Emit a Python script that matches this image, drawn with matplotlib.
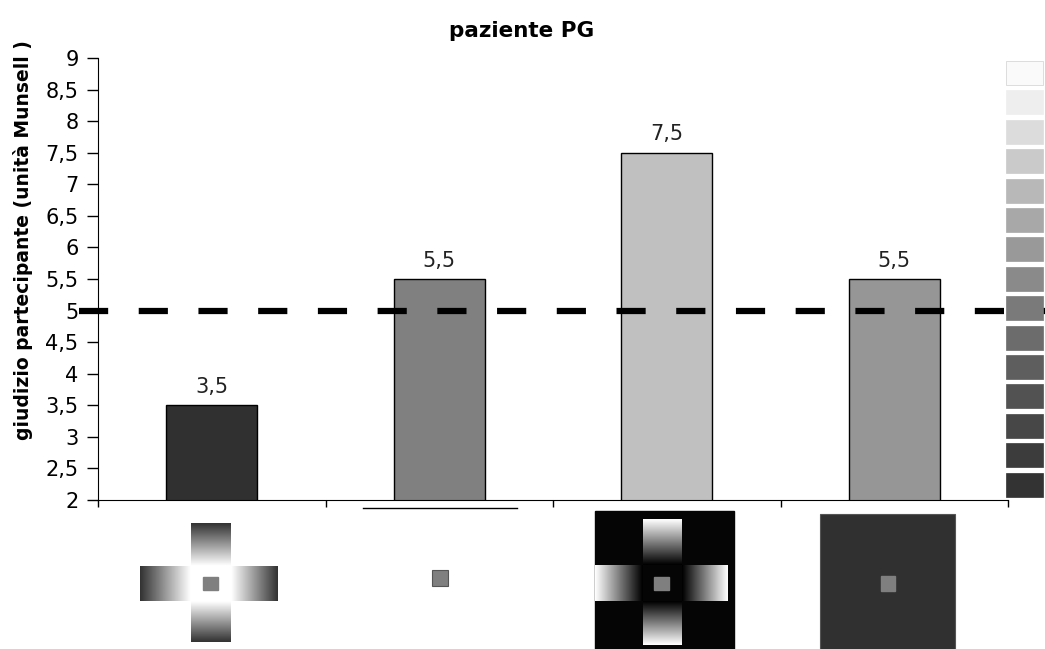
import numpy as np
import matplotlib
matplotlib.use("Agg")
import matplotlib.pyplot as plt
from matplotlib.patches import Rectangle

plt.rcParams['font.family'] = ['DejaVu Sans']

# dati
condizioni = ["croce bianca", "sfondo bianco", "croce nera", "sfondo scuro"]
giudizi = [3.5, 5.5, 7.5, 5.5]
etichette = ["3,5", "5,5", "7,5", "5,5"]
colori_barre = ["#2f302f", "#808080", "#c0c0c0", "#969696"]
soglia = 5
yticks = np.arange(2, 9.01, 0.5)
# scala Munsell a destra (dal chiaro allo scuro)
grigi_munsell = ["#fafafa", "#eeeeee", "#dcdcdc", "#cacaca", "#b8b8b8",
                 "#a8a8a8", "#999999", "#8a8a8a", "#7a7a7a", "#6c6c6c",
                 "#5e5e5e", "#525252", "#474747", "#3c3c3c", "#333333"]

W, H = 1045, 649
fig = plt.figure(figsize=(W / 100, H / 100), dpi=100)
ax = fig.add_axes([98 / W, 1 - 500 / H, 910 / W, 442 / H])

x = np.arange(len(giudizi))
bars = ax.bar(x, giudizi, width=0.4, color=colori_barre, edgecolor="black", linewidth=1)
ax.bar_label(bars, labels=etichette, padding=6, fontsize=15, color="#222222")

ax.set_xlim(-0.5, 3.5)
ax.set_ylim(2, 9)
ax.set_yticks(yticks)
ax.set_yticklabels([("%g" % v).replace(".", ",") for v in yticks], fontsize=15)
ax.set_xticks(np.arange(-0.5, 3.6, 1))
ax.set_xticklabels([])
ax.tick_params(axis="y", direction="out", length=8, width=1, pad=6)
ax.tick_params(axis="x", direction="out", length=5, width=1)
for s in ["top", "right"]:
    ax.spines[s].set_visible(False)

# linea tratteggiata a 5
lw = 4.5
ax.axhline(soglia, xmin=(79 - 98) / 910, xmax=(1045 - 98) / 910, color="black",
           linewidth=lw, linestyle=(0, (21 / lw, 22 / lw)), clip_on=False, zorder=5)

fig.text(522 / W, 1 - 31 / H, "paziente PG", fontsize=15.5, fontweight="bold",
         ha="center", va="center")
fig.text(23 / W, 1 - 240 / H, "giudizio partecipante (unità Munsell )", fontsize=13.5,
         fontweight="bold", rotation=90, ha="center", va="center")

# stimoli sotto l'asse (coordinate in pixel)
ov = fig.add_axes([0, 0, 1, 1])
ov.set_xlim(0, W)
ov.set_ylim(H, 0)
ov.set_axis_off()

def sfumatura(x0, x1, y0, y1, v0, v1, verticale):
    g = np.linspace(v0, v1, 64)
    img = g[:, None] if verticale else g[None, :]
    ov.imshow(img, cmap="gray", vmin=0, vmax=1, extent=(x0, x1, y1, y0),
              aspect="auto", interpolation="bilinear", zorder=2)

grigio_test = "#7f7f7f"

# 1: croce con bracci sfumati su bianco
sfumatura(191, 231, 523, 566, 0.2, 1.0, True)
sfumatura(191, 231, 601, 642, 1.0, 0.2, True)
sfumatura(140, 191, 566, 601, 0.2, 1.0, False)
sfumatura(231, 278, 566, 601, 1.0, 0.2, False)
ov.add_patch(Rectangle((203, 577), 15, 13, color=grigio_test, zorder=3))

# 2: solo quadratino grigio
ov.plot([363, 517], [508, 508], color="black", linewidth=1)
ov.add_patch(Rectangle((432, 570), 16, 16, facecolor=grigio_test, edgecolor="#555555",
                       linewidth=0.8, zorder=3))

# 3: croce sfumata su nero
ov.add_patch(Rectangle((595, 511), 139, 140, color="#050505", zorder=1))
sfumatura(643, 682, 519, 565, 1.0, 0.0, True)
sfumatura(643, 682, 601, 645, 0.0, 1.0, True)
sfumatura(595, 643, 565, 601, 1.0, 0.0, False)
sfumatura(682, 728, 565, 601, 0.0, 1.0, False)
ov.add_patch(Rectangle((654, 577), 15, 13, color=grigio_test, zorder=3))

# 4: sfondo scuro uniforme
ov.add_patch(Rectangle((820, 514), 135, 137, facecolor="#2f302f", edgecolor="#555555",
                       linewidth=0.8, zorder=1))
ov.add_patch(Rectangle((881, 576), 14, 15, color=grigio_test, zorder=3))

# scala Munsell
for i, c in enumerate(grigi_munsell):
    ov.add_patch(Rectangle((1006, 61 + i * 29.4), 37, 24, facecolor=c,
                           edgecolor="#d0d0d0" if i == 0 else c, linewidth=0.5, zorder=2))

fig.savefig("out.png", dpi=100)
